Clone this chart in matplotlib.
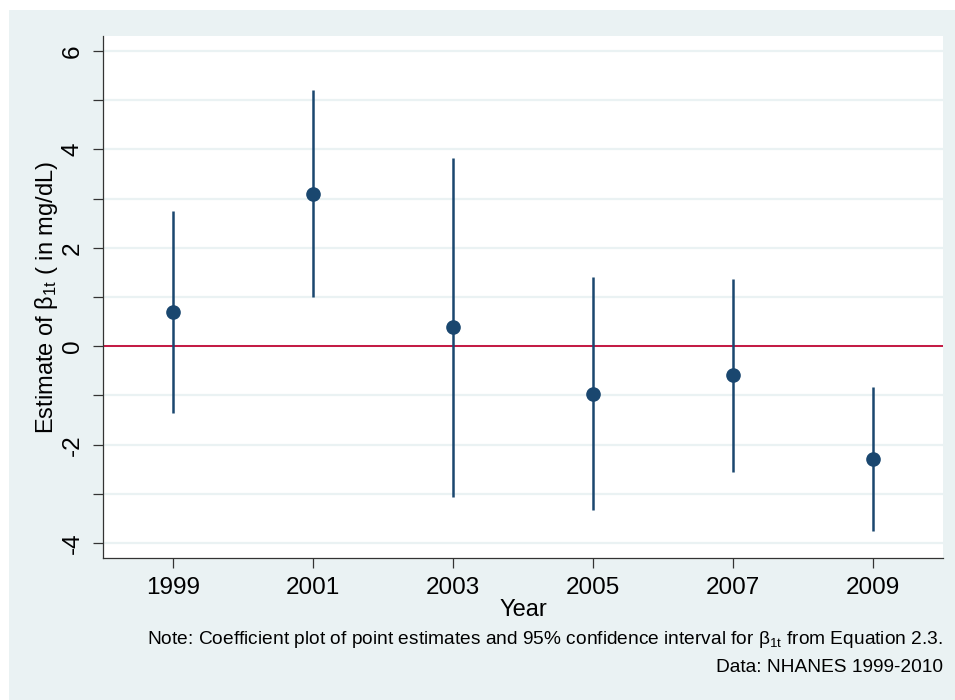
import matplotlib
matplotlib.use('Agg')
import matplotlib.pyplot as plt
from matplotlib.patches import Rectangle

plt.rcParams['font.family'] = ['Liberation Sans', 'DejaVu Sans']
plt.rcParams['mathtext.fontset'] = 'custom'
plt.rcParams['mathtext.rm'] = 'Liberation Sans'
plt.rcParams['mathtext.it'] = 'Liberation Sans'
plt.rcParams['mathtext.default'] = 'regular'

years = [1999, 2001, 2003, 2005, 2007, 2009]
estimates = [0.70, 3.10, 0.40, -0.96, -0.58, -2.29]
ci_low = [-1.35, 0.99, -3.06, -3.32, -2.55, -3.75]
ci_high = [2.75, 5.21, 3.83, 1.41, 1.37, -0.82]

y_ticks = [-4, -2, 0, 2, 4, 6]
y_minor = [-3, -1, 1, 3, 5]

navy = '#1a476f'
bg = '#eaf2f3'

fig = plt.figure(figsize=(9.55, 7), dpi=100)
fig.patch.set_facecolor('white')
# light outer graph region (white margin at top/left)
fig.patches.append(Rectangle((9 / 955, 0), 1, 1 - 10 / 700,
                             transform=fig.transFigure, facecolor=bg,
                             edgecolor='none', zorder=-5))

ax = fig.add_axes([103 / 955, 142 / 700, 840 / 955, 522 / 700])
ax.set_facecolor('white')
ax.set_zorder(2)

for y in y_ticks + y_minor:
    ax.axhline(y, color=bg, lw=1.6, zorder=1)
ax.axhline(0, color='#c10534', lw=1.3, zorder=2)

ax.vlines(years, ci_low, ci_high, color=navy, lw=1.8, zorder=3)
ax.plot(years, estimates, 'o', color=navy, ms=9.5, zorder=4)

ax.set_xlim(1998, 2010)
ax.set_ylim(-4.3, 6.3)
ax.set_xticks(years)
ax.set_xticklabels([str(y) for y in years])
ax.set_yticks(y_ticks)
ax.set_yticklabels([str(y) for y in y_ticks], rotation=90, va='center')
ax.set_yticks(y_minor, minor=True)

ax.tick_params(axis='both', which='both', length=7, width=0.9,
               color='#333333', labelsize=17.5, pad=7)

for s in ['top', 'right']:
    ax.spines[s].set_visible(False)
for s in ['left', 'bottom']:
    ax.spines[s].set_color('#333333')
    ax.spines[s].set_linewidth(0.9)

ax.set_xlabel('Year', fontsize=17, labelpad=0)
ax.set_ylabel('Estimate of β$_{1t}$ ( in mg/dL)', fontsize=17, labelpad=1)

fig.text(943 / 955, 1 - 640 / 700,
         'Note: Coefficient plot of point estimates and 95% confidence interval for β$_{1t}$ from Equation 2.3.',
         ha='right', va='center', fontsize=13.8)
fig.text(943 / 955, 1 - 667 / 700, 'Data: NHANES 1999-2010',
         ha='right', va='center', fontsize=13.8)

fig.savefig('out.png', dpi=100, facecolor=fig.get_facecolor())
